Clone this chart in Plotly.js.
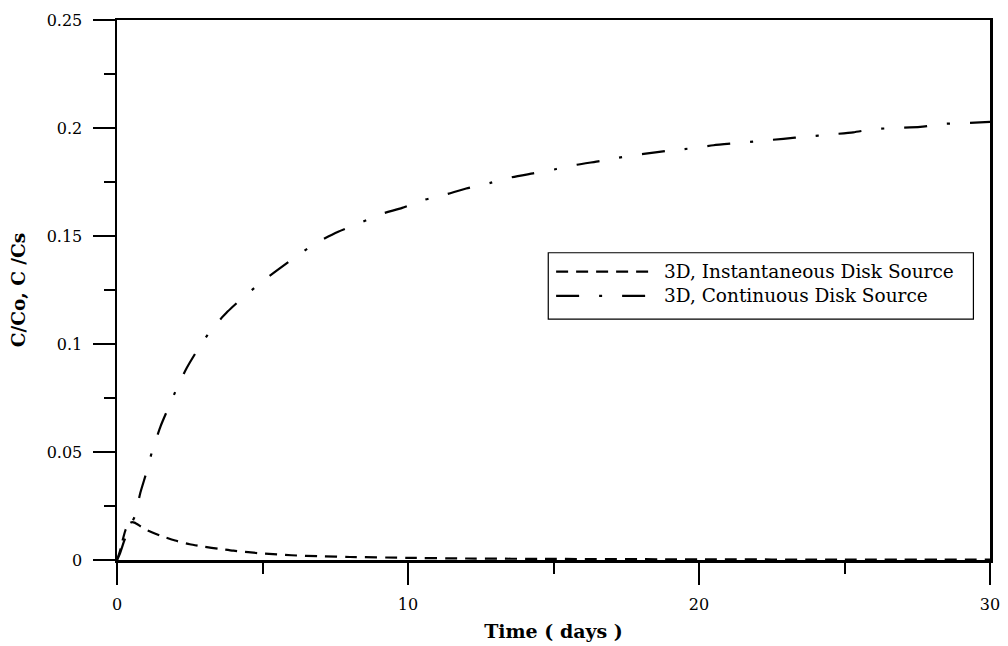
<!DOCTYPE html>
<html>
<head>
<meta charset="utf-8">
<script src="https://cdn.plot.ly/plotly-3.0.1.min.js"></script>
<style>
  html, body { margin: 0; padding: 0; background: #fff; }
  #chart { width: 1008px; height: 646px; }
</style>
</head>
<body>
<div id="chart"></div>
<script>
// Time axis (days) and relative concentration for the two disk-source solutions
const instTime = [0, 0.1, 0.2, 0.3, 0.4, 0.5, 0.6, 0.8, 1.0, 1.5, 2.0, 2.5, 3.0, 3.5, 4.0, 5.0, 6.0, 7.0, 8.0, 10, 12, 15, 20, 25, 30];
const instConc = [0, 0.004, 0.0095, 0.0142, 0.0166, 0.0175, 0.0173, 0.0157, 0.0140, 0.0112, 0.0090, 0.0073, 0.0061, 0.0052, 0.0043, 0.0030, 0.0022, 0.0017, 0.0014, 0.0010, 0.0007, 0.0005, 0.0003, 0.0002, 0.0002];

const contTime = [0, 0.1, 0.25, 0.4, 0.5, 0.62, 0.8, 1.0, 1.2, 1.5, 1.75, 2.06, 2.4, 2.8, 3.26, 3.8, 4.2, 5.0, 6.0, 6.87, 7.6, 8.35, 9.04, 9.8, 10.55, 11.24, 12.0, 12.8, 13.5, 14.3, 15.1, 15.8, 16.6, 17.4, 18.1, 18.9, 19.8, 20.5, 21.3, 22.1, 22.9, 23.7, 24.5, 25.3, 26.0, 26.8, 27.6, 28.4, 29.2, 30];
const contConc = [0, 0.003, 0.009, 0.014, 0.017, 0.0205, 0.031, 0.040, 0.050, 0.062, 0.070, 0.0796, 0.089, 0.098, 0.107, 0.115, 0.120, 0.129, 0.139, 0.147, 0.152, 0.156, 0.160, 0.163, 0.1667, 0.169, 0.172, 0.1745, 0.177, 0.179, 0.181, 0.183, 0.1847, 0.1866, 0.188, 0.1894, 0.1907, 0.192, 0.193, 0.194, 0.195, 0.196, 0.197, 0.198, 0.1995, 0.200, 0.2005, 0.2019, 0.2023, 0.2028];

const seriesNames = ['3D, Instantaneous Disk Source', '3D, Continuous Disk Source'];
const seriesDash = ['12px,8px', '23px,20px,3px,20px'];

const xTitle = 'Time ( days )';
const yTitle = 'C/Co, C /Cs';

const serif = 'DejaVu Serif, Liberation Serif, serif';

const traces = [
  { x: instTime, y: instConc, name: seriesNames[0], mode: 'lines', line: { color: '#000', width: 2.2, dash: seriesDash[0], shape: 'spline', smoothing: 0.6 }, hoverinfo: 'skip' },
  { x: contTime, y: contConc, name: seriesNames[1], mode: 'lines', line: { color: '#000', width: 2.2, dash: seriesDash[1], shape: 'spline', smoothing: 0.6 }, hoverinfo: 'skip' }
];

// Hand-built legend box in paper coordinates
const legX0 = 0.494, legX1 = 0.981, legY0 = 0.446, legY1 = 0.569;
const rowY = [0.534, 0.489];
const shapes = [
  { type: 'rect', xref: 'paper', yref: 'paper', x0: legX0, x1: legX1, y0: legY0, y1: legY1, line: { color: '#000', width: 1.2 }, fillcolor: '#fff' }
];
const annotations = [];
seriesNames.forEach((name, i) => {
  shapes.push({ type: 'line', xref: 'paper', yref: 'paper', x0: 0.503, x1: 0.609, y0: rowY[i], y1: rowY[i], line: { color: '#000', width: 2.2, dash: seriesDash[i] } });
  annotations.push({ xref: 'paper', yref: 'paper', x: 0.624, y: rowY[i], xanchor: 'left', yanchor: 'middle', text: name, showarrow: false, font: { family: serif, size: 18.5, color: '#000' } });
});

const axisCommon = {
  showline: true, linecolor: '#000', linewidth: 2.5, mirror: true,
  ticks: 'outside', ticklen: 22, tickwidth: 2, tickcolor: '#000',
  showgrid: false, zeroline: false,
  tickfont: { family: serif, size: 16, color: '#000' }
};

const layout = {
  width: 1008, height: 646,
  margin: { l: 117, r: 18, t: 20, b: 86 },
  paper_bgcolor: '#fff', plot_bgcolor: '#fff',
  showlegend: false,
  xaxis: Object.assign({}, axisCommon, {
    range: [0, 30], tickvals: [0, 10, 20, 30], ticktext: ['0', '10', '20', '30'],
    ticklabelstandoff: 6,
    minor: { tickvals: [5, 15, 25], ticks: 'outside', ticklen: 11, tickwidth: 2, tickcolor: '#000', showgrid: false },
    title: { text: xTitle, font: { family: serif, size: 19, color: '#000', weight: 'bold' }, standoff: 12 }
  }),
  yaxis: Object.assign({}, axisCommon, {
    range: [0, 0.25], tickvals: [0, 0.05, 0.1, 0.15, 0.2, 0.25], ticktext: ['0', '0.05', '0.1', '0.15', '0.2', '0.25'],
    ticklabelstandoff: 7,
    minor: { tickvals: [0.025, 0.075, 0.125, 0.175, 0.225], ticks: 'outside', ticklen: 11, tickwidth: 2, tickcolor: '#000', showgrid: false },
    title: { text: yTitle, font: { family: serif, size: 18.5, color: '#000', weight: 'bold' }, standoff: 16 }
  }),
  shapes: shapes,
  annotations: annotations
};

Plotly.newPlot('chart', traces, layout, { displayModeBar: false, staticPlot: true });
</script>
</body>
</html>
